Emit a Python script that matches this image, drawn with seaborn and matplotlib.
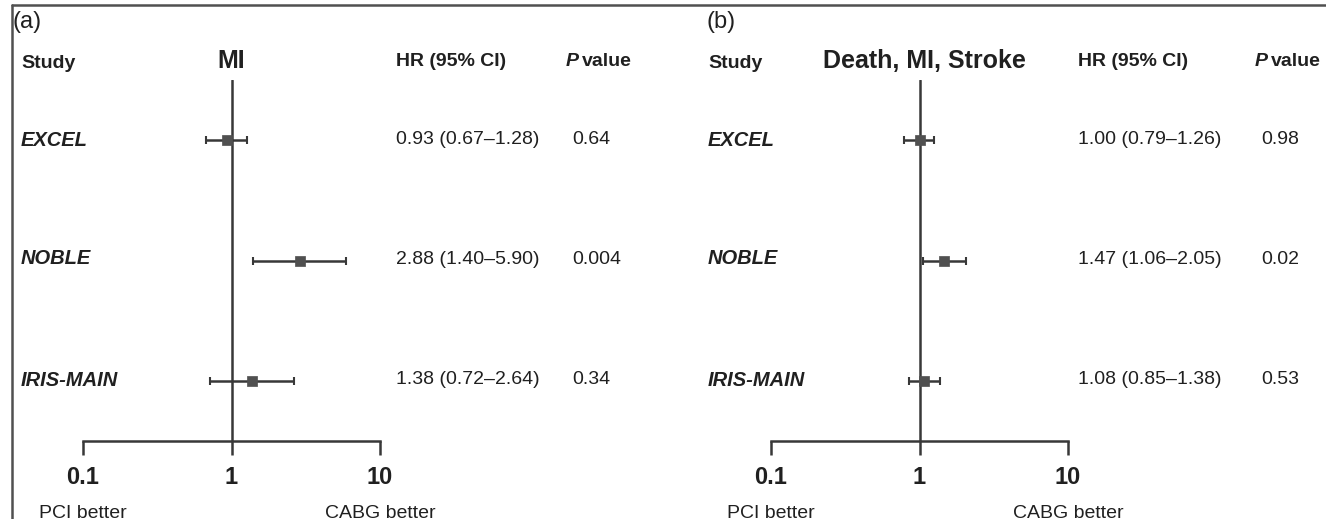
import numpy as np
import pandas as pd
import matplotlib
matplotlib.use("Agg")
import matplotlib.pyplot as plt
from matplotlib.lines import Line2D
import seaborn as sns

# ---- data ----
studies = ["EXCEL", "NOBLE", "IRIS-MAIN"]

mi_hr = [0.93, 2.88, 1.38]
mi_lo = [0.67, 1.40, 0.72]
mi_hi = [1.28, 5.90, 2.64]
mi_p = ["0.64", "0.004", "0.34"]

dms_hr = [1.00, 1.47, 1.08]
dms_lo = [0.79, 1.06, 0.85]
dms_hi = [1.26, 2.05, 1.38]
dms_p = ["0.98", "0.02", "0.53"]

panel_tags = ["(a)", "(b)"]
panel_titles = ["MI", "Death, MI, Stroke"]
x_ticks = [0.1, 1, 10]
x_ticklabels = ["0.1", "1", "10"]
side_labels = ["PCI better", "CABG better"]

# ---- style ----
sns.set_theme(style="white")
plt.rcParams["font.family"] = ["Liberation Sans", "DejaVu Sans"]

W, H = 1326, 519
fig = plt.figure(figsize=(W / 100, H / 100), dpi=100)
fig.patch.set_facecolor("white")

LINE = "#383838"
SQUARE = "#505050"
TEXT = "#202020"
FS = 14


def fx(x):
    return x / W


def fy(y):
    return 1 - y / H


def ftext(x, y, s, **kw):
    kw.setdefault("color", TEXT)
    kw.setdefault("va", "center")
    return fig.text(fx(x), fy(y), s, transform=fig.transFigure, **kw)


# frame lines along the top and left edges
fig.add_artist(Line2D([fx(12), 1], [fy(5), fy(5)], transform=fig.transFigure,
                      color="#505050", lw=1.8))
fig.add_artist(Line2D([fx(12), fx(12)], [fy(5), 0], transform=fig.transFigure,
                      color="#505050", lw=1.8))

panels = [
    dict(hr=mi_hr, lo=mi_lo, hi=mi_hi, p=mi_p, ax_left=83, ax_right=380,
         tag_x=13, study_x=21, hr_x=396, phead_x=566, p_x=572, title_dx=0),
    dict(hr=dms_hr, lo=dms_lo, hi=dms_hi, p=dms_p, ax_left=771, ax_right=1068,
         tag_x=706, study_x=708, hr_x=1078, phead_x=1255, p_x=1261, title_dx=5),
]

row_y = [140, 259, 380]
ax_top, ax_bottom = 80, 441

for i, pn in enumerate(panels):
    df = pd.DataFrame({"study": studies, "hr": pn["hr"], "lo": pn["lo"],
                       "hi": pn["hi"], "row": np.arange(len(studies))})

    ax = fig.add_axes([fx(pn["ax_left"]), fy(ax_bottom),
                       (pn["ax_right"] - pn["ax_left"]) / W,
                       (ax_bottom - ax_top) / H])
    ax.set_xscale("log")
    ax.set_xlim(0.1, 10)
    ax.set_ylim(len(studies) - 0.5, -0.5)
    ax.set_facecolor("none")

    # reference line at HR = 1
    ax.axvline(1, color=LINE, lw=1.8, zorder=1)

    # confidence intervals
    ax.errorbar(df["hr"], df["row"],
                xerr=[df["hr"] - df["lo"], df["hi"] - df["hr"]],
                fmt="none", ecolor=LINE, elinewidth=1.8, capsize=3,
                capthick=1.5, zorder=2)
    # point estimates
    sns.scatterplot(data=df, x="hr", y="row", marker="s", s=55,
                    color=SQUARE, edgecolor=SQUARE, linewidth=0.5,
                    ax=ax, zorder=3, legend=False)

    for side in ["left", "right", "top"]:
        ax.spines[side].set_visible(False)
    ax.spines["bottom"].set_color(LINE)
    ax.spines["bottom"].set_linewidth(1.8)
    ax.set_yticks([])
    ax.set_xticks(x_ticks)
    ax.xaxis.set_minor_locator(matplotlib.ticker.NullLocator())
    ax.set_xticklabels(x_ticklabels, fontsize=17, fontweight="bold", color=TEXT)
    ax.tick_params(axis="x", which="major", direction="out", length=10,
                   width=1.8, color=LINE, pad=8, bottom=True)
    ax.set_xlabel("")
    ax.set_ylabel("")

    # headers
    ftext(pn["tag_x"], 22, panel_tags[i], fontsize=17)
    ftext(pn["study_x"], 63, "Study", fontsize=FS, fontweight="bold")
    ftext((pn["ax_left"] + pn["ax_right"]) / 2 + pn["title_dx"], 61,
          panel_titles[i], fontsize=18, fontweight="bold", ha="center")
    ftext(pn["hr_x"], 61, "HR (95% CI)", fontsize=FS, fontweight="bold")
    ftext(pn["phead_x"], 61, "P", fontsize=FS, fontweight="bold",
          style="italic")
    ftext(pn["phead_x"] + 16, 61, "value", fontsize=FS, fontweight="bold")

    # rows
    for r, y in enumerate(row_y):
        ftext(pn["study_x"], y, studies[r], fontsize=FS + 0.5, fontweight="bold",
              style="italic")
        ftext(pn["hr_x"], y,
              f"{pn['hr'][r]:.2f} ({pn['lo'][r]:.2f}\u2013{pn['hi'][r]:.2f})",
              fontsize=FS)
        ftext(pn["p_x"], y, pn["p"][r], fontsize=FS)

    # direction labels under the axis
    ftext(pn["ax_left"], 513, side_labels[0], fontsize=FS, ha="center")
    ftext(pn["ax_right"], 513, side_labels[1], fontsize=FS, ha="center")

fig.savefig("out.png", dpi=100, facecolor="white")
